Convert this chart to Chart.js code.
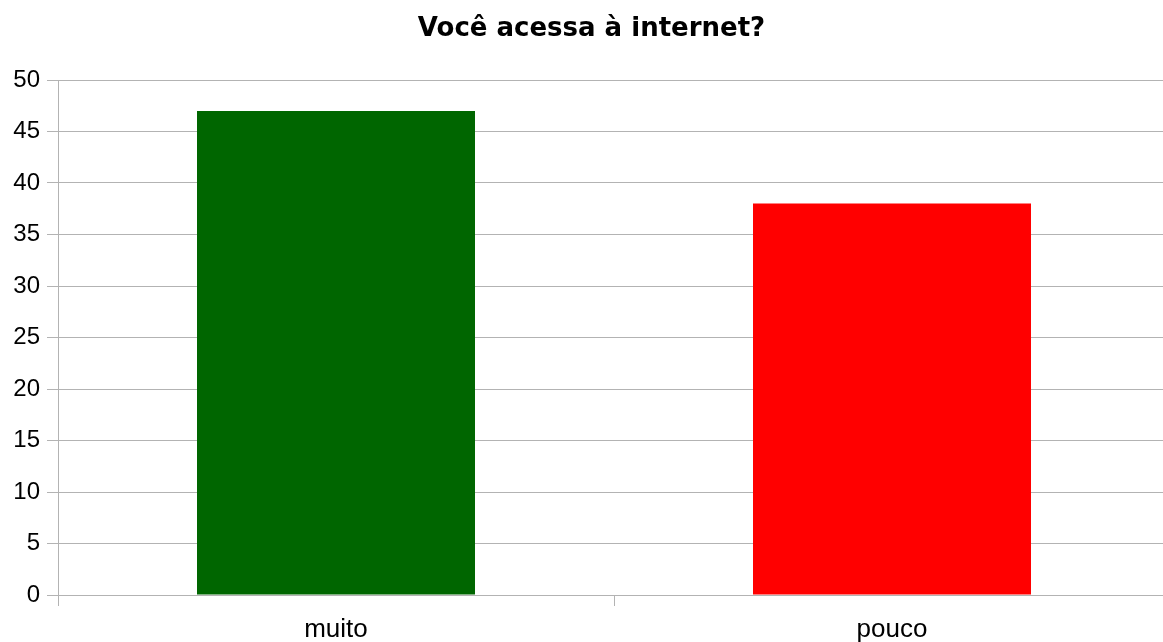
<!DOCTYPE html>
<html>
<head>
<meta charset="utf-8">
<script src="https://cdn.jsdelivr.net/npm/chart.js@4.4.1/dist/chart.umd.min.js"></script>
<style>
  html, body { margin: 0; padding: 0; background: #ffffff; }
  #wrap { width: 1163px; height: 642px; position: relative; }
</style>
</head>
<body>
<div id="wrap"><canvas id="accessChart"></canvas></div>
<script>
const categories = ['muito', 'pouco'];
const answers = [47, 38];
const barColors = ['#006600', '#ff0000'];
const yTicks = [0, 5, 10, 15, 20, 25, 30, 35, 40, 45, 50];

const lineGrey = '#b3b3b3';
const fontFamily = "'Liberation Sans', Arial, sans-serif";

// the category axis runs a few pixels past the right edge of the canvas,
// and the title sits centred over the plot rather than the whole canvas
const adjustLayout = {
    id: 'adjustLayout',
    afterLayout: function(chart) {
        const x = chart.scales.x;
        x.right = chart.chartArea.right + 7;
        x.width = x.right - x.left;
        x.configure();

        const t = chart.titleBlock;
        if (t) {
            t.left = 10;
            t.right = chart.width + 10;
        }
    }
};

const ctx = document.getElementById('accessChart').getContext('2d');
const accessChart = new Chart(ctx, {
    type: 'bar',
    data: {
        labels: categories,
        datasets: [{
            label: 'Você acessa à internet?',
            data: answers,
            backgroundColor: barColors,
            borderWidth: 0,
            categoryPercentage: 1.0,
            barPercentage: 0.5
        }]
    },
    plugins: [adjustLayout],
    options: {
        responsive: true,
        maintainAspectRatio: false,
        animation: false,
        layout: { padding: 0 },
        plugins: {
            legend: { display: false },
            tooltip: { enabled: false },
            title: {
                display: true,
                text: 'Você acessa à internet?',
                color: '#000000',
                font: { family: "'DejaVu Sans', sans-serif", size: 26, weight: 'bold', lineHeight: 1.2 },
                padding: { top: 14, bottom: 34.8 }
            }
        },
        scales: {
            x: {
                offset: true,
                grid: {
                    offset: true,
                    drawOnChartArea: false,
                    color: lineGrey,
                    tickLength: 11
                },
                border: { color: lineGrey, width: 1 },
                ticks: { color: '#000000', font: { family: fontFamily, size: 26 }, padding: 8 },
                afterFit: function(scale) { scale.height = 47; }
            },
            y: {
                min: 0,
                max: 50,
                afterBuildTicks: function(scale) {
                    scale.ticks = yTicks.map(v => ({ value: v }));
                },
                grid: { color: lineGrey, tickLength: 11 },
                border: { color: lineGrey, width: 1 },
                ticks: { color: '#000000', font: { family: fontFamily, size: 24 }, padding: 7 },
                afterFit: function(scale) { scale.width = 58; }
            }
        }
    }
});
</script>
</body>
</html>
